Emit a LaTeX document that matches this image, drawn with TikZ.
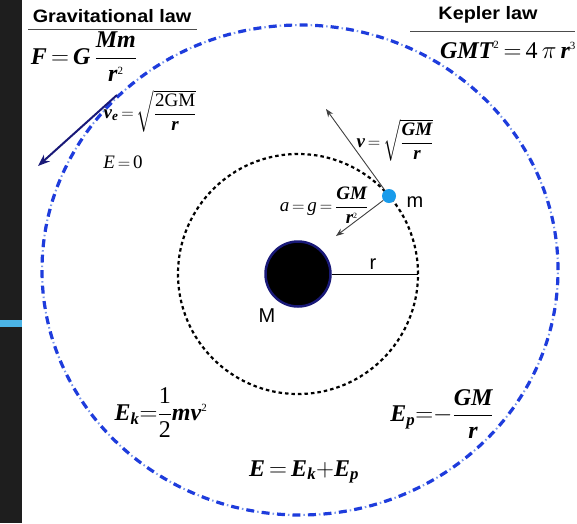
\documentclass[tikz,border=0pt]{standalone}
\usepackage{amsmath}
\usepackage{fontspec}
\setmainfont{Liberation Serif}
\setsansfont{Liberation Sans}
\usetikzlibrary{arrows.meta}
\newcommand{\bi}[1]{\text{\bfseries\itshape #1}}
\newcommand{\ri}[1]{\text{\itshape #1}}
\newcommand{\rr}[1]{\text{#1}}
\newcommand{\supbig}[1]{\text{\fontsize{11}{11}\selectfont #1}}
\newcommand{\supsm}[1]{\text{\fontsize{8}{8}\selectfont #1}}
\definecolor{outerblue}{RGB}{30,60,220}
\definecolor{dotblue}{RGB}{120,150,235}
\definecolor{navy}{RGB}{25,25,120}
\definecolor{mblue}{RGB}{25,155,235}
\definecolor{strip}{RGB}{30,30,30}
\definecolor{bar}{RGB}{75,180,230}
\tikzset{
  titletext/.style={font=\sffamily\bfseries\fontsize{18}{20}\selectfont, inner sep=0pt, xscale=1.1},
  lbl/.style={font=\sffamily\fontsize{20}{22}\selectfont, inner sep=0pt},
  bigf/.style={font=\fontsize{24}{26}\selectfont, inner sep=0pt},
  smallf/.style={font=\fontsize{19}{21}\selectfont, inner sep=0pt},
  outer/.style={draw=outerblue, line width=3.2pt, dash pattern=on 8pt off 7.5pt},
  outerdots/.style={draw=dotblue, line width=2pt, dash pattern=on 1.5pt off 14pt, dash phase=4.5pt},
  inner/.style={draw=black, line width=2.2pt, dash pattern=on 3.5pt off 3pt},
  planet/.style={circle, fill=black, draw=navy, line width=2.5pt, minimum size=65pt, inner sep=0pt},
  mdot/.style={circle, fill=mblue, minimum size=14pt, inner sep=0pt},
  vec/.style={draw=black!75, line width=0.9pt, -{Stealth[length=8pt,width=6pt]}},
  esc/.style={draw=navy, line width=2pt, -{Stealth[length=12pt,width=9pt]}},
  rule/.style={draw=black!70, line width=1pt}
}
\begin{document}
\begin{tikzpicture}[x=1pt,y=-1pt]
\useasboundingbox (0,0) rectangle (577,523);
\fill[white] (0,0) rectangle (577,523);
% left dark strip
\fill[strip] (0,0) rectangle (22,523);
\fill[bar] (0,320) rectangle (22,327);
% outer orbit
\draw[outer] (300,270) ellipse [x radius=258pt, y radius=245pt];
\draw[outerdots] (300,270) ellipse [x radius=258pt, y radius=245pt];
% inner orbit
\draw[inner] (298,274) circle [radius=120pt];
% titles
\node[titletext] (gtitle) at (112,16) {Gravitational law};
\coordinate (gl1) at (28,29); \coordinate (gl2) at (197,29);
\draw[rule] (gl1) -- (gl2);
\node[bigf] (fF) at (84,57) {$\bi{F}{\,=\,}\bi{G}\,\dfrac{\bi{Mm}}{\bi{r}^{\supbig{2}}}$};
\node[titletext] (ktitle) at (488,15) {Kepler law};
\coordinate (kl1) at (410,31); \coordinate (kl2) at (575,31);
\draw[rule] (kl1) -- (kl2);
\node[bigf] (fK) at (508,50) {$\bi{GMT}^{\supbig{2}}{\,=\,}\rr{4}\,\pi\,\bi{r}^{\supbig{3}}$};
% escape
\coordinate (es) at (117,95); \coordinate (ee) at (38,166);
\draw[esc] (es) -- (ee);
\node[smallf] (fve) at (150,111) {$\bi{v}_{\bi{e}}{\,=\,}\sqrt{\dfrac{\rr{2GM}}{\bi{r}}}$};
\node[smallf] (fE0) at (123,162) {$\ri{E}\,{=}\,\rr{0}$};
% central mass
\node[planet] (M) at (298,274) {};
\coordinate (rend) at (418,274);
\draw[black, line width=1pt] (M.east) -- (rend);
\node[lbl] (rl) at (373,264) {r};
\node[lbl] (Ml) at (267,316) {M};
% orbiting mass
\node[mdot] (m) at (389,196) {};
\node[lbl] (ml) at (415,202) {m};
\coordinate (vend) at (326,109);
\coordinate (aend) at (336,236);
\draw[vec] (m) -- (vend);
\draw[vec] (m) -- (aend);
\node[smallf] (fv) at (395,140) {$\bi{v}{\,=\,}\sqrt{\dfrac{\bi{GM}}{\bi{r}}}$};
\node[smallf] (fa) at (324,205) {$\ri{a}\,{=}\,\ri{g}\,{=}\,\dfrac{\bi{GM}}{\bi{r}^{\supsm{2}}}$};
% energies
\node[bigf] (fEk) at (161,413) {$\bi{E}_{\bi{k}}{=}\dfrac{\rr{1}}{\rr{2}}\bi{mv}^{\supbig{2}}$};
\node[bigf] (fEp) at (442,414) {$\bi{E}_{\bi{p}}{=}{-}\dfrac{\bi{GM}}{\bi{r}}$};
\node[bigf] (fE) at (304,472) {$\bi{E}\,{=}\,\bi{E}_{\bi{k}}{+}\bi{E}_{\bi{p}}$};
\end{tikzpicture}
\end{document}
